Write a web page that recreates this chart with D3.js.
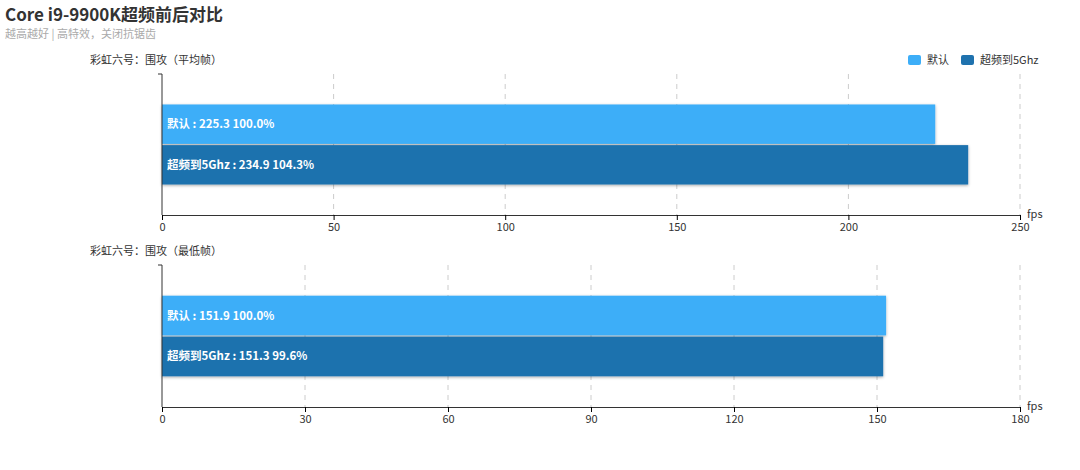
<!DOCTYPE html><html><head><meta charset="utf-8"><script src="https://cdn.jsdelivr.net/npm/d3@7"></script>
<style>body{margin:0;background:#fff;font-family:"Microsoft YaHei","Noto Sans CJK SC",sans-serif}</style></head><body>
<svg id="c" width="1080" height="470"></svg>
<script>
const series=["默认","超频到5Ghz"];
const colors=["#3daef8","#1f72ae"];
const panels=["彩虹六号：围攻（平均帧）","彩虹六号：围攻（最低帧）"];
const avgValues=[225.3,234.9];
const minValues=[151.9,151.3];
const avgPct=["100.0%","104.3%"];
const minPct=["100.0%","99.6%"];
const avgTicks=[0,50,100,150,200,250];
const minTicks=[0,30,60,90,120,150,180];
const svg=d3.select("#c");
const F='"Microsoft YaHei","Noto Sans CJK SC",sans-serif';
const defs=svg.append("defs");
const f=defs.append("filter").attr("id","sh").attr("x","-5%").attr("y","-20%").attr("width","110%").attr("height","150%");
f.append("feDropShadow").attr("dx",0).attr("dy",1).attr("stdDeviation",1.5).attr("flood-color","#000").attr("flood-opacity",0.35);
svg.append("text").attr("x",5).attr("y",21).text("Core i9-9900K超频前后对比").attr("font-size",17).attr("font-weight","bold").attr("fill","#333").attr("font-family",F);
svg.append("text").attr("x",5).attr("y",38).text("越高越好 | 高特效，关闭抗锯齿").attr("font-size",11).attr("fill","#aaa").attr("font-family",F);
// legend
const lg=[{x:908,t:series[0],c:colors[0]},{x:961,t:series[1],c:colors[1]}];
lg.forEach(d=>{svg.append("rect").attr("x",d.x).attr("y",55).attr("width",13).attr("height",10).attr("rx",2).attr("fill",d.c);
svg.append("text").attr("x",d.x+19).attr("y",64).text(d.t).attr("font-size",11).attr("fill","#333").attr("font-family",F);});
function panel(top,bottom,title,vals,pcts,ticks){
  const x=d3.scaleLinear().domain([0,ticks[ticks.length-1]]).range([162,1020]);
  const y=d3.scaleBand().domain(series).range([top,bottom]).paddingInner(0.03).paddingOuter(0.75);
  svg.append("text").attr("x",90).attr("y",top-10).text(title).attr("font-size",11).attr("fill","#333").attr("font-family",F);
  ticks.slice(1).forEach(t=>svg.append("line").attr("x1",x(t)).attr("x2",x(t)).attr("y1",top).attr("y2",bottom).attr("stroke","#ccc").attr("stroke-dasharray","5,5"));
  series.forEach((s,i)=>{
    svg.append("rect").attr("x",x(0)).attr("y",y(s)).attr("width",x(vals[i])-x(0)).attr("height",y.bandwidth()).attr("fill",colors[i]).attr("filter","url(#sh)");
    svg.append("text").attr("x",x(0)+5).attr("y",y(s)+y.bandwidth()/2+4).text(s+" : "+vals[i].toFixed(1)+"  "+pcts[i]).attr("font-size",11.5).attr("font-weight","bold").attr("fill","#fff").attr("font-family",F);
  });
  const ax=svg.append("g").attr("transform",`translate(0,${bottom})`).call(d3.axisBottom(x).tickValues(ticks).tickSize(5).tickSizeOuter(0));
  ax.select(".domain").attr("stroke","#333");ax.selectAll("text").attr("font-size",11).attr("fill","#333").attr("font-family",F);
  svg.append("line").attr("x1",x(0)).attr("x2",x(0)).attr("y1",top).attr("y2",bottom).attr("stroke","#333");
  svg.append("line").attr("x1",x(0)-4).attr("x2",x(0)).attr("y1",top).attr("y2",top).attr("stroke","#333");
  svg.append("text").attr("x",1027).attr("y",bottom+3).text("fps").attr("font-size",11).attr("fill","#333").attr("font-family",F);
}
panel(74,215,panels[0],avgValues,avgPct,avgTicks);
panel(265,407,panels[1],minValues,minPct,minTicks);
</script></body></html>
